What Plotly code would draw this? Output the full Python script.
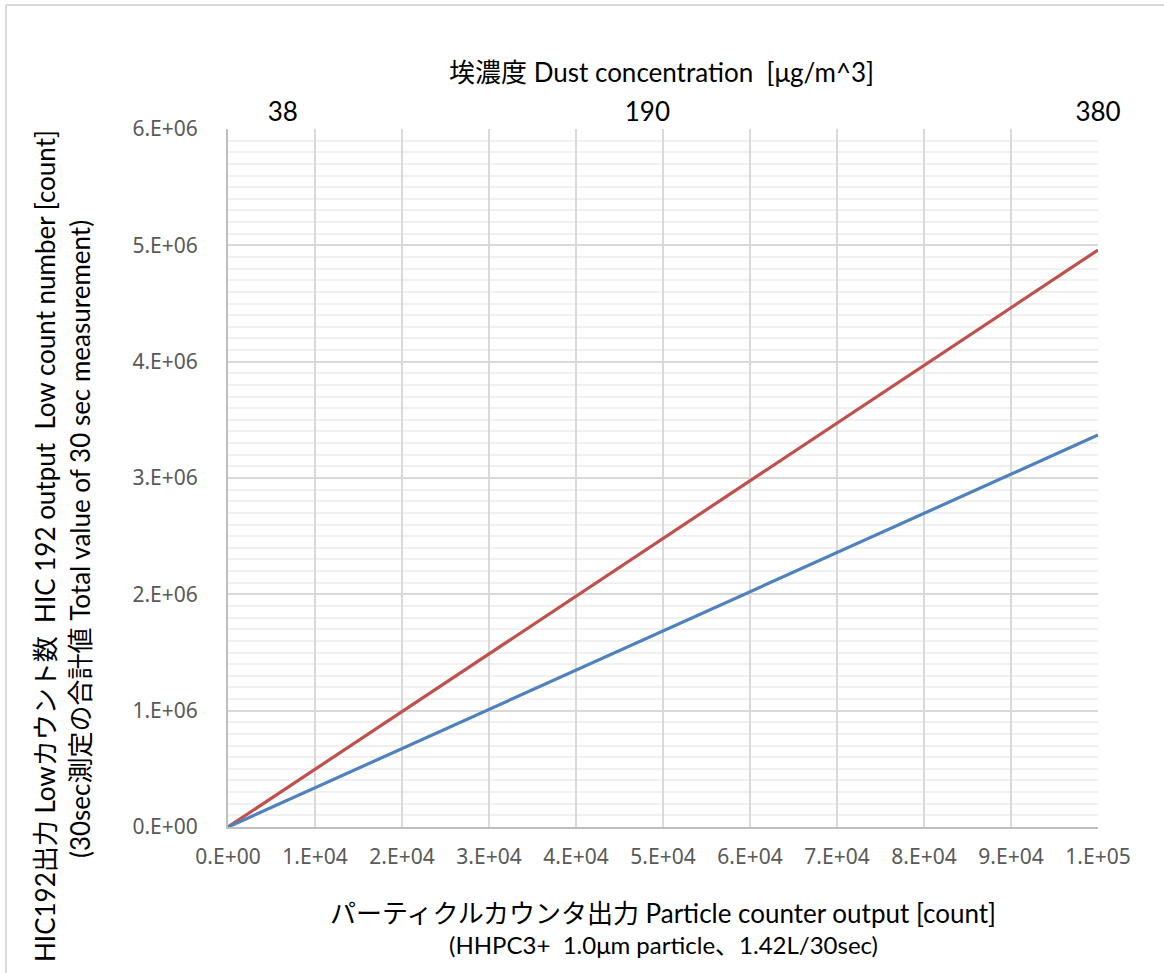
import plotly.graph_objects as go

# ---- data ----
x_counts = [0, 100000]
red_values = [0, 4.96e6]
blue_values = [0, 3.37e6]

x_tickvals = [0, 1e4, 2e4, 3e4, 4e4, 5e4, 6e4, 7e4, 8e4, 9e4, 1e5]
x_ticktext = ["0.E+00", "1.E+04", "2.E+04", "3.E+04", "4.E+04", "5.E+04",
              "6.E+04", "7.E+04", "8.E+04", "9.E+04", "1.E+05"]
y_tickvals = [0, 1e6, 2e6, 3e6, 4e6, 5e6, 6e6]
y_ticktext = ["0.E+00", "1.E+06", "2.E+06", "3.E+06", "4.E+06", "5.E+06", "6.E+06"]

top_tick_labels = ["38", "190", "380"]
top_tick_pos = [6300, 48200, 100000]

FONT = "Lato, 'Noto Sans CJK JP', sans-serif"
TICKFONT = "'Noto Sans', 'Noto Sans CJK JP', sans-serif"

fig = go.Figure()
fig.add_trace(go.Scatter(x=x_counts, y=red_values, mode="lines",
                         line=dict(color="#c0504d", width=3.2), showlegend=False))
fig.add_trace(go.Scatter(x=x_counts, y=blue_values, mode="lines",
                         line=dict(color="#4f81bd", width=3.2), showlegend=False))
# invisible trace to activate top axis
fig.add_trace(go.Scatter(x=[0, 100000], y=[0, 0], xaxis="x2", mode="lines",
                         line=dict(width=0), hoverinfo="skip", showlegend=False))

W, H = 1164, 973
L, R, T, B = 228, 66, 129, 146

fig.update_layout(
    width=W, height=H,
    margin=dict(l=L, r=R, t=T, b=B),
    paper_bgcolor="white", plot_bgcolor="white",
    font=dict(family=FONT, color="black"),
    xaxis=dict(range=[0, 100000], tickvals=x_tickvals, ticktext=x_ticktext,
               showgrid=True, gridcolor="#d9d9d9", gridwidth=1.5,
               showline=True, linecolor="#bfbfbf", linewidth=2,
               zeroline=False, ticks="", ticklabelstandoff=10,
               tickfont=dict(family=TICKFONT, size=21, color="#595959")),
    xaxis2=dict(range=[0, 100000], overlaying="x", side="top",
                tickvals=top_tick_pos, ticktext=top_tick_labels,
                showgrid=False, showline=False, zeroline=False, ticks="",
                ticklabelstandoff=2,
                tickfont=dict(family=FONT, size=26, color="black")),
    yaxis=dict(range=[0, 6e6], tickvals=y_tickvals, ticktext=y_ticktext,
               showgrid=True, gridcolor="#d9d9d9", gridwidth=1.5,
               minor=dict(dtick=1e5, showgrid=True, gridcolor="#f0f0f0", gridwidth=1.5),
               showline=True, linecolor="#bfbfbf", linewidth=2,
               zeroline=False, ticks="", ticklabelstandoff=24,
               tickfont=dict(family=TICKFONT, size=21, color="#595959")),
)

pw, ph = W - L - R, H - T - B

def px_x(p):
    return (p - L) / pw

def px_y(p):
    return (H - B - p) / ph

def title(text, xpx, ypx, size, angle=0):
    fig.add_annotation(text=text, xref="paper", yref="paper",
                       x=px_x(xpx), y=px_y(ypx), xanchor="center", yanchor="middle",
                       showarrow=False, textangle=angle,
                       font=dict(family=FONT, size=size, color="black"))

title("埃濃度 Dust concentration  [μg/m^3]", 661, 72, 26)
title("パーティクルカウンタ出力 Particle counter output [count]", 663, 913, 26)
title("(HHPC3+  1.0μm particle、1.42L/30sec)", 663, 945, 24)
title("HIC192出力 Lowカウント数  HIC 192 output  Low count number [count]", 45, 546, 26, -90)
title("(30sec測定の合計値 Total value of 30 sec measurement)", 80, 539, 26, -90)

# outer chart border (left & top visible)
fig.add_shape(type="line", xref="paper", yref="paper",
              x0=px_x(6), x1=px_x(6), y0=px_y(5), y1=px_y(H + 10),
              line=dict(color="#d9d9d9", width=2))
fig.add_shape(type="line", xref="paper", yref="paper",
              x0=px_x(6), x1=px_x(W + 10), y0=px_y(5), y1=px_y(5),
              line=dict(color="#d9d9d9", width=2))

fig.write_html("out.html", config={"displayModeBar": False},
               post_script="document.body.style.margin='0px';")
